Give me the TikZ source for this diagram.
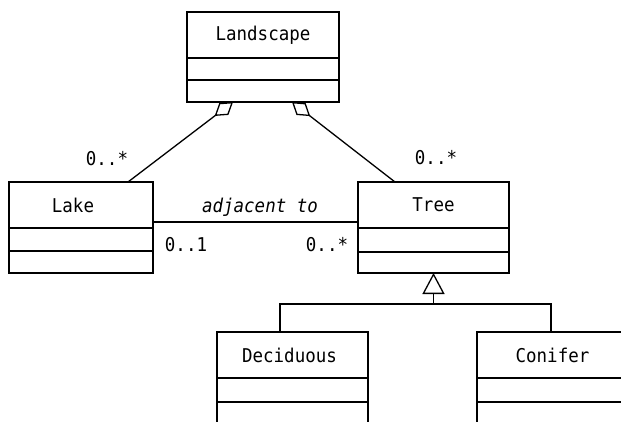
\documentclass[tikz,border=0pt]{standalone}
\usepackage{fontspec}
\newfontfamily\umlfont[FakeStretch=0.92]{DejaVu Sans Mono}
\usetikzlibrary{positioning,calc,arrows.meta}
\begin{document}
\begin{tikzpicture}[x=1pt,y=-1pt,
  every node/.style={font=\umlfont\fontsize{19}{22}\selectfont},
  clshead/.style={draw,line width=1.3pt,minimum width=#1,minimum height=46pt,inner sep=0pt,outer sep=0pt},
  clscomp/.style 2 args={draw,line width=1.3pt,minimum width=#1,minimum height=#2,inner sep=0pt,outer sep=0pt},
  conn/.style={line width=1.3pt},
  lbl/.style={inner sep=0pt},
  agg/.style={conn,-{Diamond[open,length=23pt,width=15pt,line width=1.3pt]}},
  gen/.style={conn,-{Triangle[open,length=21pt,width=22pt,line width=1.3pt]}}
]
\useasboundingbox (0,0) rectangle (621,421);
\clip (0,0) rectangle (621,421);
\fill[white] (0,0) rectangle (621,421);

% Landscape
\node[clshead=152pt] (land) at (263,35) {Landscape};
\node[clscomp={152pt}{22pt},below=0 of land] (land2) {};
\node[clscomp={152pt}{22pt},below=0 of land2] (land3) {};

% Lake
\node[clshead=144pt] (lake) at (81,205) {\hspace*{-16pt}Lake};
\node[clscomp={144pt}{23pt},below=0 of lake] (lake2) {};
\node[clscomp={144pt}{22pt},below=0 of lake2] (lake3) {};

% Tree
\node[clshead=151pt] (tree) at (433.5,205) {Tree};
\node[clscomp={151pt}{24pt},below=0 of tree] (tree2) {};
\node[clscomp={151pt}{21pt},below=0 of tree2] (tree3) {};

% Deciduous
\node[clshead=151pt] (dec) at (292.5,355) {\hspace*{-6pt}Deciduous};
\node[clscomp={151pt}{24pt},below=0 of dec] (dec2) {};
\node[clscomp={151pt}{24pt},below=0 of dec2] (dec3) {};

% Conifer
\node[clshead=151pt] (con) at (552.5,355) {Conifer};
\node[clscomp={151pt}{24pt},below=0 of con] (con2) {};
\node[clscomp={151pt}{24pt},below=0 of con2] (con3) {};

% aggregations
\coordinate (lakeTop) at ($(lake.north)+(47,0)$);
\coordinate (landL) at ($(land3.south)+(-30,0)$);
\draw[agg] (lakeTop) -- (landL);
\coordinate (treeTop) at ($(tree.north)+(-38.5,0)$);
\coordinate (landR) at ($(land3.south)+(29,0)$);
\draw[agg] (treeTop) -- (landR);

\node[lbl] (m1) at (107,159) {0..*};
\node[lbl] (m2) at (436,158) {0..*};

% association
\coordinate (aL) at ($(lake.east)+(0,17)$);
\coordinate (aR) at (aL -| tree.west);
\draw[conn] (aL) -- (aR);
\node[lbl] (assoc) at (260,207) {\itshape adjacent to};
\node[lbl] (m3) at (186,245) {0..1};
\node[lbl] (m4) at (327,245) {0..*};

% generalization
\coordinate (gj) at (433.5,304);
\draw[gen] (gj) -- (tree3.south);
\coordinate (gd) at ($(dec.north)+(-12.5,0)$);
\coordinate (gc) at ($(con.north)+(-1.5,0)$);
\draw[conn] (gd) |- (gj) -| (gc);
\end{tikzpicture}
\end{document}
